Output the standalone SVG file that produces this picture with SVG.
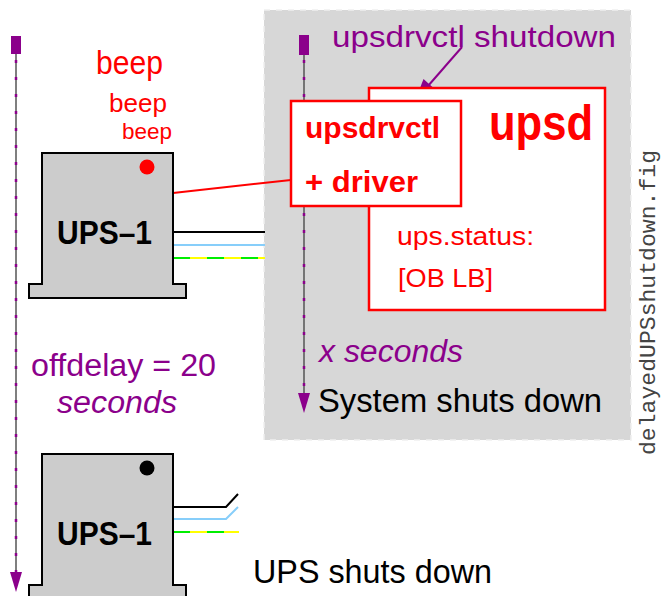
<svg xmlns="http://www.w3.org/2000/svg" width="661" height="596" viewBox="0 0 661 596">
  <defs>
    <style>
      .sans { font-family: "Liberation Sans", Arial, sans-serif; }
      .bold { font-weight: bold; }
      .red { fill: #ff0000; }
      .purple { fill: #8b008b; }
      .black { fill: #000000; }
      .ups-body { fill: #cccccc; stroke: #000000; stroke-width: 2; }
      .track { stroke: #555555; stroke-width: 1.5; fill: none; }
      .track-dash { stroke: #8b008b; stroke-width: 2.5; stroke-dasharray: 3 14; fill: none; }
      .box { fill: #ffffff; stroke: #ff0000; stroke-width: 2.5; }
    </style>
  </defs>

  <rect width="661" height="596" fill="#ffffff"/>

  <!-- shaded host area -->
  <g id="host-area">
    <rect x="264" y="10" width="367" height="430" fill="#d7d7d7" stroke="#f0f0f0" stroke-width="1.5" stroke-dasharray="6 6"/>
  </g>

  <!-- connectors and cables -->
  <g id="connectors">
    <!-- left time line -->
    <rect x="11" y="36" width="10" height="18" fill="#8b008b"/>
    <line class="track" x1="16" y1="54" x2="16" y2="578"/>
    <line class="track-dash" x1="16" y1="60" x2="16" y2="578"/>
    <path d="M10,572 L16,592 L22,572 Z" fill="#8b008b"/>

    <!-- host time line -->
    <rect x="299" y="35" width="10" height="20" fill="#8b008b"/>
    <line class="track" x1="304" y1="55" x2="304" y2="398"/>
    <line class="track-dash" x1="304" y1="60" x2="304" y2="398"/>
    <path d="M298,393 L304,413 L310,393 Z" fill="#8b008b"/>

    <!-- command arrow -->
    <line x1="462" y1="47" x2="428" y2="86" stroke="#8b008b" stroke-width="2"/>
    <path d="M415,101 L423.5,79 L435.5,89.7 Z" fill="#8b008b"/>

    <!-- serial link UPS to driver -->
    <line x1="173" y1="193" x2="291" y2="180" stroke="#ff0000" stroke-width="2"/>

    <!-- power cables, top UPS -->
    <line x1="173" y1="232" x2="265" y2="232" stroke="#000000" stroke-width="2"/>
    <line x1="173" y1="245" x2="265" y2="245" stroke="#87cefa" stroke-width="2"/>
    <line x1="173" y1="258" x2="265" y2="258" stroke="#ffff00" stroke-width="2"/>
    <line x1="173" y1="258" x2="265" y2="258" stroke="#00ee00" stroke-width="2" stroke-dasharray="17 17"/>

    <!-- power cables, bottom UPS (opened) -->
    <polyline points="173,507 226,507 238,494" fill="none" stroke="#000000" stroke-width="2"/>
    <polyline points="173,519 226,519 238,507" fill="none" stroke="#87cefa" stroke-width="2"/>
    <line x1="173" y1="532" x2="239" y2="532" stroke="#ffff00" stroke-width="2"/>
    <line x1="173" y1="532" x2="239" y2="532" stroke="#00ee00" stroke-width="2" stroke-dasharray="17 17"/>
  </g>

  <!-- top UPS -->
  <g id="ups-top">
    <rect class="ups-body" x="29" y="284" width="157" height="14"/>
    <rect class="ups-body" x="42" y="153" width="131" height="131"/>
    <line x1="43" y1="284" x2="172" y2="284" stroke="#cccccc" stroke-width="2"/>
    <circle cx="147" cy="167" r="7.5" fill="#ff0000"/>
    <text class="sans bold black" x="57" y="244" font-size="34" textLength="95" lengthAdjust="spacingAndGlyphs">UPS–1</text>
    <text class="sans red" x="96" y="74" font-size="33" textLength="67" lengthAdjust="spacingAndGlyphs">beep</text>
    <text class="sans red" x="109" y="112" font-size="25" textLength="58" lengthAdjust="spacingAndGlyphs">beep</text>
    <text class="sans red" x="122" y="139" font-size="22" textLength="50" lengthAdjust="spacingAndGlyphs">beep</text>
  </g>

  <!-- bottom UPS -->
  <g id="ups-bottom">
    <rect class="ups-body" x="29" y="585" width="157" height="20"/>
    <rect class="ups-body" x="42" y="454" width="131" height="131"/>
    <line x1="43" y1="585" x2="172" y2="585" stroke="#cccccc" stroke-width="2"/>
    <circle cx="147" cy="468" r="7.5" fill="#000000"/>
    <text class="sans bold black" x="57" y="545" font-size="34" textLength="95" lengthAdjust="spacingAndGlyphs">UPS–1</text>
  </g>

  <!-- upsd daemon -->
  <g id="upsd">
    <rect class="box" x="369" y="88" width="236" height="222"/>
    <text class="sans bold red" x="489" y="140" font-size="50" textLength="104" lengthAdjust="spacingAndGlyphs">upsd</text>
    <text class="sans red" x="397" y="245" font-size="26" textLength="137" lengthAdjust="spacingAndGlyphs">ups.status:</text>
    <text class="sans red" x="398" y="287" font-size="26" textLength="95" lengthAdjust="spacingAndGlyphs">[OB LB]</text>
  </g>

  <!-- driver -->
  <g id="driver">
    <rect class="box" x="291" y="101" width="170" height="105"/>
    <text class="sans bold red" x="305" y="138" font-size="30" textLength="135" lengthAdjust="spacingAndGlyphs">upsdrvctl</text>
    <text class="sans bold red" x="305" y="192" font-size="30" textLength="113" lengthAdjust="spacingAndGlyphs">+ driver</text>
  </g>

  <!-- labels -->
  <g id="labels">
    <text class="sans purple" x="332" y="47" font-size="29" textLength="284" lengthAdjust="spacingAndGlyphs">upsdrvctl shutdown</text>
    <text class="sans purple" x="319" y="362" font-size="31" font-style="italic" textLength="144" lengthAdjust="spacingAndGlyphs">x seconds</text>
    <text class="sans black" x="318" y="412" font-size="33" textLength="284" lengthAdjust="spacingAndGlyphs">System shuts down</text>
    <text class="sans purple" x="31" y="376" font-size="31" textLength="185" lengthAdjust="spacingAndGlyphs">offdelay = 20</text>
    <text class="sans purple" x="57" y="413" font-size="31" font-style="italic" textLength="120" lengthAdjust="spacingAndGlyphs">seconds</text>
    <text class="sans black" x="253" y="583" font-size="33" textLength="239" lengthAdjust="spacingAndGlyphs">UPS shuts down</text>
    <text x="655" y="455" font-family="'Liberation Mono', 'Courier New', monospace" font-size="22" fill="#444444" transform="rotate(-90 655 455)" textLength="305" lengthAdjust="spacingAndGlyphs">delayedUPSshutdown.fig</text>
  </g>
</svg>
